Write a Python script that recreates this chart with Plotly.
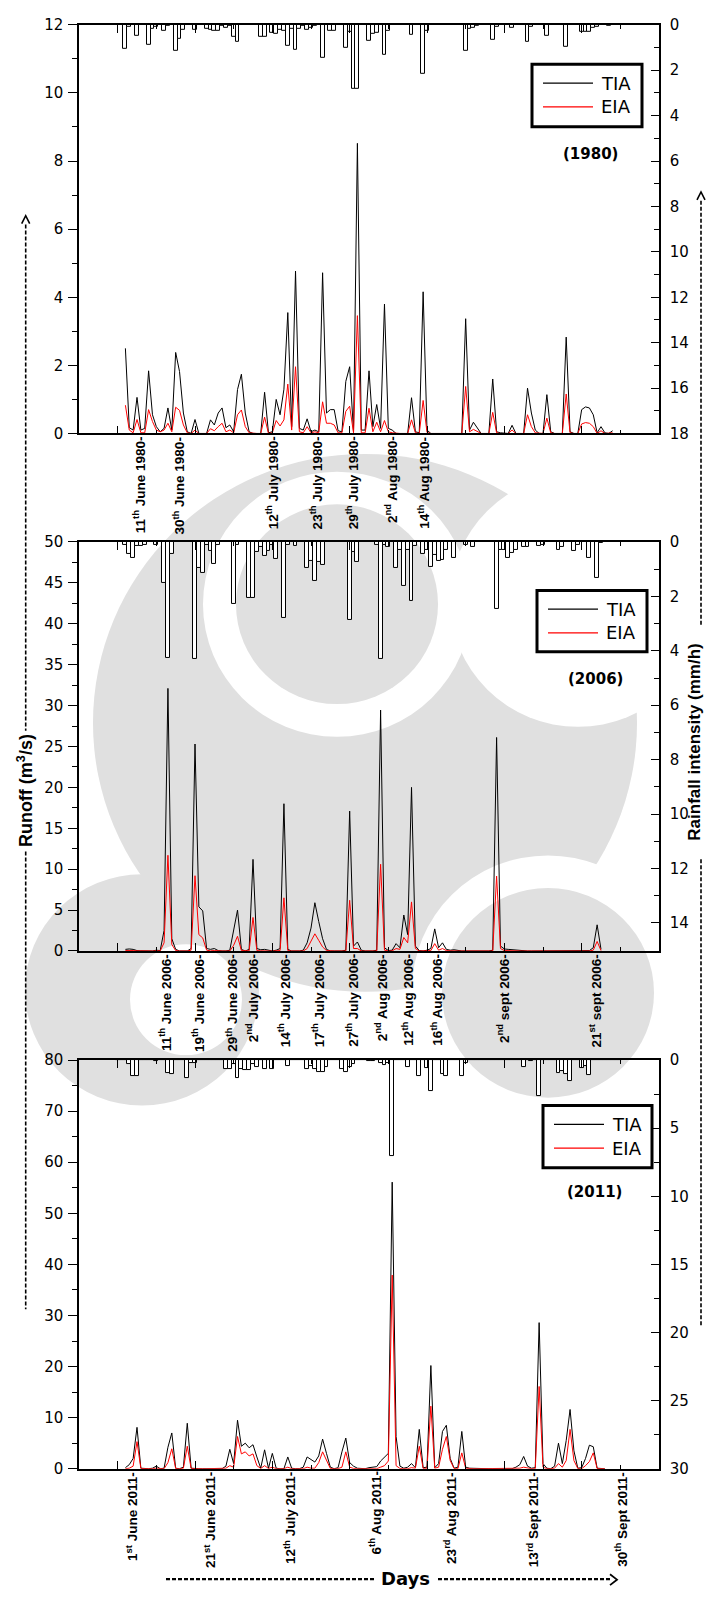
import plotly.graph_objects as go

W, H = 707, 1602


def px(x):
    return x / W


def py(y):
    return 1 - y / H


# ---------------- data ----------------
rain_days = list(range(0, 131))

rain_1980 = [
    0, 0, 1.05, 0.1, 0, 0.49, 0, 0, 0.86, 0.17,
    0.1, 0, 0.28, 0.05, 0, 1.15, 0.6, 0.2, 0, 0,
    0.2, 0, 0, 0.17, 0.2, 0.28, 0.28, 0.05, 0.15, 0.05,
    0.52, 0.74, 0, 0, 0, 0, 0, 0.52, 0.52, 0,
    0.37, 0.4, 0.2, 0.28, 0.93, 0.17, 1.12, 0.17, 0.05, 0.2,
    0.15, 0.05, 0, 1.44, 0, 0.28, 0.28, 0, 0, 1.0,
    0.3, 2.83, 2.83, 0, 0, 0.7, 0.4, 0.36, 0, 1.3,
    0.28, 0, 0, 0, 0, 0, 0.45, 0, 0, 2.18,
    0.28, 0, 0, 0, 0, 0, 0, 0, 0, 0,
    1.16, 0.17, 0.15, 0.05, 0, 0, 0, 0.68, 0.1, 0,
    0, 0, 0.15, 0, 0, 0, 0.73, 0.1, 0, 0,
    0, 0.49, 0, 0, 0, 0, 0.97, 0, 0, 0,
    0.3, 0.3, 0.3, 0.15, 0.1, 0, 0, 0.05, 0, 0,
    0,
]

rain_2006 = [
    0, 0, 0.1, 0.45, 0.6, 0.15, 0.15, 0.1, 0, 0,
    0.1, 0, 1.5, 4.27, 0.45, 0, 0, 0, 0, 0,
    4.29, 0.95, 1.13, 0.1, 0.33, 0.8, 0.1, 0, 0, 0,
    2.29, 0.1, 0, 0, 2.05, 2.05, 0.36, 0.2, 0.53, 0.33,
    0.1, 0.63, 0, 2.79, 0.1, 0, 0.15, 0, 0, 0.96,
    0.7, 1.42, 0.75, 0.85, 0, 0, 0, 0, 0, 0,
    2.87, 0.36, 0.72, 0, 0, 0, 0, 0.1, 4.29, 0.1,
    0.2, 0, 0.96, 0.3, 1.6, 0.3, 2.15, 0.15, 0, 0.44,
    0.3, 0.93, 0.47, 0.69, 0.66, 0.3, 0, 0.6, 0, 0,
    0.1, 0, 0.2, 0, 0, 0, 0, 0, 2.45, 0.3,
    0.3, 0.6, 0.4, 0.3, 0, 0.2, 0.2, 0, 0, 0.15,
    0.1, 0, 0, 0, 0.3, 0.2, 0, 0, 0.33, 0.1,
    0, 0, 0.6, 0, 1.33, 0.05, 0, 0, 0, 0,
    0,
]

rain_2011 = [
    0, 0, 0, 0.3, 1.14, 1.14, 0, 0, 0, 0,
    0.1, 0, 0, 0.95, 1.0, 0, 0, 0, 1.3, 0.2,
    0.25, 0, 0, 0, 0, 0, 0, 0, 0.65, 0.65,
    0.3, 1.3, 0.65, 0.7, 0.7, 0.3, 0.55, 0, 0.65, 0,
    0.65, 0, 0, 0, 0.47, 0, 0, 0, 0, 0.65,
    0.47, 0.65, 0.9, 0.9, 0.55, 0, 0, 0, 0.65, 0.9,
    0.55, 0.3, 0, 0, 0, 0.05, 0.1, 0, 0.2, 0.4,
    0.2, 7.06, 0, 0, 0, 0.48, 0, 0, 1.14, 0,
    0.58, 2.27, 0, 0, 1.0, 1.2, 0, 0, 0, 1.2,
    0.2, 0, 0, 0, 0, 0, 0, 0, 0, 0,
    0, 0, 0, 0, 0, 0.53, 0, 0.1, 0, 2.66,
    0, 0, 0, 0, 0.97, 0.78, 1.0, 1.55, 0, 0,
    0.58, 0.45, 1.07, 0, 0, 0, 0, 0, 0, 0,
    0,
]

# runoff series start on day 2
tia_1980 = [
    2.5, 0.17, 0.1, 1.06, 0.1, 0.15, 1.84, 0.55,
    0.2, 0.05, 0.15, 0.75, 0.1, 2.38, 1.82, 0.6, 0.05, 0,
    0.41, 0, 0, 0, 0.4, 0.25, 0.6, 0.75, 0.17, 0.25,
    0.05, 1.29, 1.74, 0.6, 0.05, 0, 0, 0, 1.21, 0.02,
    0.05, 1.0, 0.55, 1.3, 3.55, 0.2, 4.77, 0.15, 0.1, 0.43,
    0.05, 0.1, 0.05, 4.72, 0.6, 0.7, 0.7, 0.08, 0.05, 1.53,
    1.96, 0.05, 8.52, 0.1, 0.1, 1.84, 0.2, 0.85, 0.15, 3.8,
    0.15, 0.1, 0, 0, 0, 0, 1.05, 0.05, 0.02, 4.16,
    0.1, 0, 0, 0, 0, 0, 0, 0, 0, 0,
    3.37, 0.1, 0.33, 0.15, 0, 0, 0, 1.6, 0.05, 0.02,
    0.02, 0, 0.24, 0, 0, 0, 1.33, 0.6, 0.1, 0,
    0, 1.14, 0.05, 0, 0, 0, 2.83, 0.05, 0, 0,
    0.7, 0.78, 0.75, 0.55, 0.02, 0.2, 0.02, 0, 0.08,
]
eia_1980 = [
    0.83, 0.1, 0.02, 0.41, 0.02, 0.02, 0.7, 0.35,
    0.1, 0.05, 0.1, 0.3, 0.05, 0.77, 0.68, 0.25, 0.02, 0,
    0.1, 0, 0, 0, 0.14, 0.08, 0.2, 0.3, 0.05, 0.1,
    0.02, 0.55, 0.69, 0.2, 0.02, 0, 0, 0, 0.48, 0,
    0.02, 0.38, 0.22, 0.4, 1.45, 0.1, 1.96, 0.05, 0.02, 0.2,
    0.02, 0.05, 0.02, 0.93, 0.3, 0.3, 0.25, 0.02, 0.02, 0.65,
    0.8, 0.02, 3.46, 0.02, 0.02, 0.74, 0.05, 0.33, 0.05, 0.38,
    0.05, 0.02, 0, 0, 0, 0, 0.4, 0.02, 0, 0.97,
    0.03, 0, 0, 0, 0, 0, 0, 0, 0, 0,
    1.38, 0.05, 0.12, 0.05, 0, 0, 0, 0.62, 0.02, 0,
    0, 0, 0.1, 0, 0, 0, 0.55, 0.2, 0.02, 0,
    0, 0.45, 0.02, 0, 0, 0, 1.16, 0.02, 0, 0,
    0.28, 0.32, 0.3, 0.2, 0, 0.08, 0, 0, 0.02,
]

tia_2006 = [
    0.2, 0.25, 0.2, 0.05, 0.02, 0, 0, 0,
    0.1, 0.05, 2.5, 32.1, 1.5, 0.2, 0, 0, 0, 0.3,
    25.3, 5.4, 4.9, 0.3, 0.2, 0.3, 0.05, 0, 0, 0.1,
    2.6, 5.0, 0.2, 0, 0.2, 11.2, 0.3, 0.15, 0.2, 0.1,
    0, 0.1, 0.3, 18.0, 0.2, 0, 0, 0, 0.1, 1.0,
    2.8, 5.9, 3.6, 1.5, 0.2, 0, 0, 0, 0, 0.1,
    17.1, 0.6, 1.1, 0.1, 0, 0, 0, 0.1, 29.45, 0.4,
    0.05, 0.1, 0.9, 0.4, 4.4, 2.0, 20.0, 0.6, 0.05, 0,
    0.1, 0.3, 2.7, 0.4, 1.0, 0.2, 0.1, 0.15, 0.05, 0,
    0, 0, 0, 0, 0, 0, 0, 0.1, 26.1, 0.6,
    0.25, 0.2, 0.15, 0.1, 0.05, 0, 0, 0, 0, 0,
    0, 0, 0, 0, 0, 0, 0, 0, 0, 0,
    0, 0, 0.05, 0.4, 3.2, 0.2,
]
eia_2006 = [
    0.05, 0.08, 0.05, 0.02, 0, 0, 0, 0,
    0.02, 0.02, 1.0, 11.7, 0.8, 0.05, 0, 0, 0, 0.1,
    9.2, 2.0, 1.6, 0.1, 0.02, 0.05, 0, 0, 0, 0,
    0.7, 1.8, 0.05, 0, 0.02, 4.1, 0.05, 0.02, 0.05, 0,
    0, 0.02, 0.05, 6.5, 0.05, 0, 0, 0, 0, 0.3,
    1.2, 2.1, 1.3, 0.5, 0.05, 0, 0, 0, 0, 0,
    6.2, 0.3, 0.3, 0, 0, 0, 0, 0, 10.6, 0.1,
    0, 0.02, 0.3, 0.2, 1.65, 1.0, 6.0, 0.3, 0, 0,
    0, 0.05, 0.9, 0.1, 0.3, 0.05, 0.02, 0.05, 0, 0,
    0, 0, 0, 0, 0, 0, 0, 0, 9.15, 0.3,
    0.05, 0.02, 0, 0, 0, 0, 0, 0, 0, 0,
    0, 0, 0, 0, 0, 0, 0, 0, 0, 0,
    0, 0, 0, 0.1, 1.17, 0.05,
]

tia_2011 = [
    0.2, 0.8, 2.0, 8.1, 0.1, 0, 0, 0.1,
    0.5, 0, 0.1, 4.2, 7.0, 0.1, 0, 0.3, 8.9, 0.1,
    0, 0, 0, 0, 0, 0, 0, 0, 0.5, 3.8,
    1.0, 9.5, 4.4, 5.0, 4.1, 4.7, 2.3, 0.1, 3.7, 0.1,
    3.0, 0.1, 0, 0, 2.3, 0.1, 0, 0, 0.3, 2.3,
    1.8, 1.3, 2.5, 5.8, 3.0, 0.3, 0, 0.2, 3.3, 6.0,
    1.2, 0.5, 0.1, 0, 0, 0.2, 0.3, 0.4, 1.5, 2.3,
    3.0, 56.1, 6.3, 0.5, 0.1, 0.3, 1.0, 0.2, 7.7, 0.2,
    0.3, 20.2, 0.2, 1.0, 7.3, 8.5, 2.0, 0.1, 0.3, 7.3,
    0.3, 0.1, 0.05, 0, 0, 0, 0, 0, 0, 0,
    0.1, 0.05, 0, 0.3, 0.8, 2.4, 0.5, 0.1, 0.2, 28.6,
    1.0, 0.1, 0, 0.5, 5.0, 1.0, 5.5, 11.6, 3.5, 0.1,
    0.2, 2.0, 4.6, 4.3, 0.1, 0.05, 0,
]
eia_2011 = [
    0, 0.1, 0.5, 5.3, 0.05, 0, 0, 0,
    0.1, 0, 0, 1.2, 3.9, 0.05, 0, 0.1, 4.4, 0.05,
    0, 0, 0, 0, 0, 0, 0, 0, 0.1, 0.6,
    0.3, 6.3, 2.9, 3.3, 2.5, 2.9, 0.6, 0.05, 0.6, 0.05,
    0.3, 0, 0, 0, 0.3, 0, 0, 0, 0, 0.3,
    0.1, 0.1, 1.2, 3.3, 1.7, 0.05, 0, 0, 0.3, 3.3,
    0.3, 0.05, 0, 0, 0, 0, 0, 0, 0.3, 0.6,
    1.5, 37.9, 0.6, 0.05, 0, 0, 0.2, 0.1, 4.4, 0.05,
    0.1, 12.25, 0.1, 0.3, 3.8, 6.3, 1.6, 0.05, 0, 3.1,
    0.1, 0, 0, 0, 0, 0, 0, 0, 0, 0,
    0, 0, 0, 0, 0.1, 0.3, 0.1, 0, 0, 16.1,
    0.3, 0, 0, 0.1, 1.0, 0.3, 1.6, 7.7, 1.6, 0.05,
    0, 0.6, 1.4, 3.1, 0.05, 0, 0,
]

# event dates marked under each panel (position in days, label)
dates_1980_x = [5.6, 15.9, 40.0, 51.4, 60.7, 70.7, 79.3]
dates_1980_txt = ["11<sup>th</sup> June 1980-", "30<sup>th</sup> June 1980-",
                  "12<sup>th</sup> July 1980-", "23<sup>th</sup> July 1980-",
                  "29<sup>th</sup> July 1980-", "2<sup>nd</sup> Aug 1980-",
                  "14<sup>th</sup> Aug 1980-"]
dates_2006_x = [12.4, 20.8, 29.5, 34.8, 43.2, 52.0, 60.7, 68.3, 75.0, 82.5, 99.8, 123.7]
dates_2006_txt = ["11<sup>th</sup> June 2006-", "19<sup>th</sup> June 2006-",
                  "29<sup>th</sup> June 2006-", "2<sup>nd</sup> July 2006-",
                  "14<sup>th</sup> July 2006-", "17<sup>th</sup> July 2006-",
                  "27<sup>th</sup> July 2006-", "2<sup>nd</sup> Aug 2006-",
                  "12<sup>th</sup> Aug 2006-", "16<sup>th</sup> Aug 2006-",
                  "2<sup>nd</sup> sept 2006-", "21<sup>st</sup> sept 2006-"]
dates_2011_x = [3.65, 23.7, 44.4, 66.6, 86.0, 107.4, 130.3]
dates_2011_txt = ["1<sup>st</sup> June 2011-", "21<sup>st</sup> June 2011-",
                  "12<sup>th</sup> July 2011-", "6<sup>th</sup> Aug 2011-",
                  "23<sup>rd</sup> Aug 2011-", "13<sup>rd</sup> Sept 2011-",
                  "30<sup>th</sup> Sept 2011-"]

# ---------------- layout geometry (pixels) ----------------
X_LEFT, X_RIGHT = 79, 659
panels = [
    dict(year="(1980)", top=16, bottom=429.3, runoff_max=12, runoff_dtick=2, runoff_minor=1,
         rain_max=18, rain_dtick=2, rain_minor=1,
         rain=rain_1980, tia=tia_1980, eia=eia_1980,
         dx=dates_1980_x, dtxt=dates_1980_txt,
         legend=(532, 56, 642, 119), year_pos=(590, 147)),
    dict(year="(2006)", top=539, bottom=952.7, runoff_max=50, runoff_dtick=5, runoff_minor=2.5,
         rain_max=15.03, rain_dtick=2, rain_minor=1,
         rain=rain_2006, tia=tia_2006, eia=eia_2006,
         dx=dates_2006_x, dtxt=dates_2006_txt,
         legend=(537, 588, 647, 650), year_pos=(595, 678)),
    dict(year="(2011)", top=1063, bottom=1476.3, runoff_max=80, runoff_dtick=10, runoff_minor=5,
         rain_max=30, rain_dtick=5, rain_minor=2.5,
         rain=rain_2011, tia=tia_2011, eia=eia_2011,
         dx=dates_2011_x, dtxt=dates_2011_txt,
         legend=(543, 1109, 652, 1172), year_pos=(594, 1196)),
]

TICK_FONT = dict(family="DejaVu Sans", size=15, color="black")
fig = go.Figure()
layout = {}
shapes = []
annotations = []

# faint grey emblem behind the plots: (centre x, centre y, radius, fill)
EMBLEM_GREY = "#e0e0e0"
emblem = [
    (365, 722, 272, EMBLEM_GREY),
    (578, 598, 128, "white"),
    (337, 602, 134, "white"),
    (337, 602, 101, EMBLEM_GREY),
    (548, 992, 136, "white"),
    (548, 995, 106, EMBLEM_GREY),
    (142, 992, 117, EMBLEM_GREY),
    (186, 1002, 56, "white"),
]
for cx, cy, r, col in emblem:
    shapes.append(dict(type="circle", xref="paper", yref="paper", layer="below",
                       x0=px(cx - r), x1=px(cx + r), y0=py(cy + r), y1=py(cy - r),
                       fillcolor=col, line=dict(width=0)))

for i, p in enumerate(panels):
    xname = "x" if i == 0 else f"x{i + 1}"
    ly = "y" if i == 0 else f"y{2 * i + 1}"
    ry = f"y{2 * i + 2}"
    xkey = "xaxis" if i == 0 else f"xaxis{i + 1}"
    lykey = "yaxis" if i == 0 else f"yaxis{2 * i + 1}"
    rykey = f"yaxis{2 * i + 2}"
    dom_y = [py(p["bottom"]), py(p["top"])]

    layout[xkey] = dict(
        domain=[px(X_LEFT), px(X_RIGHT)], anchor=ly, range=[-10, 140],
        showline=True, linecolor="black", linewidth=1.5, mirror="ticks",
        ticks="inside", ticklen=8, tickwidth=1.3, tickcolor="black",
        tickvals=list(range(0, 141, 20)), showticklabels=False,
        minor=dict(ticks="inside", ticklen=4, tickwidth=1, tickcolor="black", dtick=10, tick0=0),
        showgrid=False, zeroline=False,
    )
    layout[lykey] = dict(
        domain=dom_y, anchor=xname, range=[0, p["runoff_max"]],
        showline=True, linecolor="black", linewidth=1.5,
        ticks="outside", ticklen=9, tickwidth=1.3, tickcolor="black",
        dtick=p["runoff_dtick"], tick0=0, tickfont=TICK_FONT, ticklabelstandoff=2,
        minor=dict(ticks="outside", ticklen=5, tickwidth=1, tickcolor="black",
                   dtick=p["runoff_minor"], tick0=0),
        showgrid=False, zeroline=False,
    )
    layout[rykey] = dict(
        overlaying=ly, side="right", anchor=xname, range=[p["rain_max"], 0],
        showline=True, linecolor="black", linewidth=1.5,
        ticks="inside", ticklen=8, tickwidth=1.3, tickcolor="black",
        dtick=p["rain_dtick"], tick0=0, tickfont=TICK_FONT, ticklabelstandoff=6,
        minor=dict(ticks="inside", ticklen=5, tickwidth=1, tickcolor="black",
                   dtick=p["rain_minor"], tick0=0),
        showgrid=False, zeroline=False,
    )

    runoff_days = list(range(2, 2 + len(p["tia"])))
    fig.add_trace(go.Scatter(x=runoff_days, y=p["tia"], mode="lines", name="TIA",
                             line=dict(color="black", width=1), xaxis=xname, yaxis=ly))
    fig.add_trace(go.Scatter(x=runoff_days, y=p["eia"], mode="lines", name="EIA",
                             line=dict(color="red", width=1), xaxis=xname, yaxis=ly))
    fig.add_trace(go.Bar(x=rain_days, y=p["rain"], width=1.0, name="Rainfall",
                         marker=dict(color="white", line=dict(color="black", width=1)),
                         xaxis=xname, yaxis=ry))

    # legend box
    x0, y0, x1, y1 = p["legend"]
    shapes.append(dict(type="rect", xref="paper", yref="paper",
                       x0=px(x0), x1=px(x1), y0=py(y1), y1=py(y0),
                       line=dict(color="black", width=3), fillcolor="white", layer="above"))
    for k, (lbl, col) in enumerate([("TIA", "black"), ("EIA", "red")]):
        yy = y0 + 19 + 24 * k
        shapes.append(dict(type="line", xref="paper", yref="paper",
                           x0=px(x0 + 11), x1=px(x0 + 61), y0=py(yy), y1=py(yy),
                           line=dict(color=col, width=1.2), layer="above"))
        annotations.append(dict(text=lbl, xref="paper", yref="paper",
                                x=px(x0 + 67), y=py(yy), xanchor="left", yanchor="middle",
                                showarrow=False,
                                font=dict(family="DejaVu Sans", size=18, color="black")))

    # year tag
    annotations.append(dict(text=f"<b>{p['year']}</b>", xref="paper", yref="paper",
                            x=px(p["year_pos"][0]), y=py(p["year_pos"][1]),
                            xanchor="center", yanchor="middle", showarrow=False,
                            font=dict(family="DejaVu Sans", size=15, color="black")))

    # date labels below the axis
    for xv, txt in zip(p["dx"], p["dtxt"]):
        annotations.append(dict(text=f"<b>{txt}</b>", xref=xname, yref="paper",
                                x=xv, y=py(p["bottom"] + 1), xanchor="center", yanchor="top",
                                textangle=-90, showarrow=False,
                                font=dict(family="Liberation Sans", size=13.5, color="black")))

# axis titles with dashed guide lines
DASH = dict(color="black", width=1.6, dash="4px,2px")
for (xx, ya, yb) in [(25.7, 218, 730), (25.7, 852, 1315), (701, 194, 624), (701, 860, 1332)]:
    shapes.append(dict(type="line", xref="paper", yref="paper",
                       x0=px(xx), x1=px(xx), y0=py(ya), y1=py(yb), line=DASH))
for (xx, ytop) in [(25.7, 209), (701, 185)]:
    path = (f"M {px(xx - 4)} {py(ytop + 8)} L {px(xx)} {py(ytop)} "
            f"L {px(xx + 4)} {py(ytop + 8)}")
    shapes.append(dict(type="path", xref="paper", yref="paper", path=path,
                       line=dict(color="black", width=1.6)))

annotations.append(dict(text="<b>Runoff (m<sup>3</sup>/s)</b>", xref="paper", yref="paper",
                        x=px(25), y=py(791), xanchor="center", yanchor="middle",
                        textangle=-90, showarrow=False,
                        font=dict(family="Liberation Sans", size=18, color="black")))
annotations.append(dict(text="<b>Rainfall intensity (mm/h)</b>", xref="paper", yref="paper",
                        x=px(695), y=py(742), xanchor="center", yanchor="middle",
                        textangle=-90, showarrow=False,
                        font=dict(family="Liberation Sans", size=17, color="black")))

# "Days" axis title with dashed arrow
DASH_H = dict(color="black", width=2.2, dash="4px,2px")
shapes.append(dict(type="line", xref="paper", yref="paper",
                   x0=px(166), x1=px(374), y0=py(1588), y1=py(1588), line=DASH_H))
shapes.append(dict(type="line", xref="paper", yref="paper",
                   x0=px(438), x1=px(612), y0=py(1588), y1=py(1588), line=DASH_H))
shapes.append(dict(type="path", xref="paper", yref="paper",
                   path=(f"M {px(610)} {py(1583)} L {px(617)} {py(1588.5)} "
                         f"L {px(610)} {py(1594)}"),
                   line=dict(color="black", width=1.8)))
annotations.append(dict(text="<b>Days</b>", xref="paper", yref="paper",
                        x=px(406), y=py(1587), xanchor="center", yanchor="middle",
                        showarrow=False,
                        font=dict(family="DejaVu Sans", size=18, color="black")))

fig.update_layout(
    width=W, height=H, autosize=False,
    margin=dict(l=0, r=0, t=0, b=0, pad=0),
    plot_bgcolor="rgba(0,0,0,0)", paper_bgcolor="white",
    showlegend=False, bargap=0,
    shapes=shapes, annotations=annotations,
    **layout,
)

fig.write_html("out.html")
